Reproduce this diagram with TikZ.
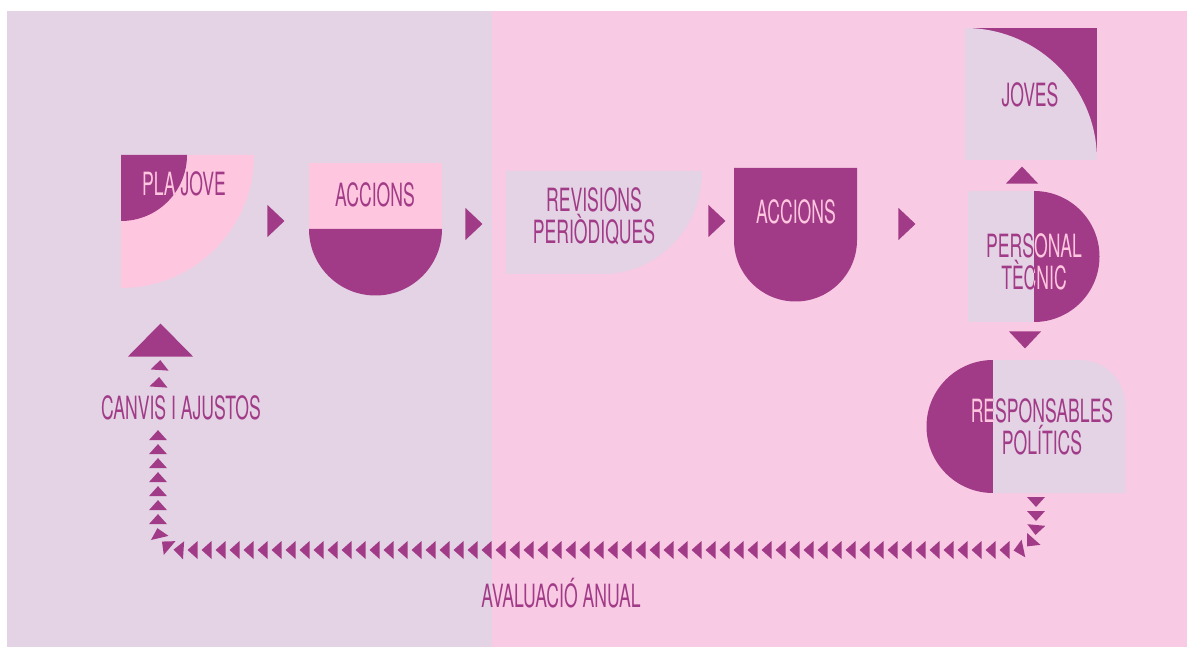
\documentclass[tikz,border=0pt]{standalone}
\usepackage{fontspec}
\newfontfamily\agency{TeX Gyre Heros}[FakeStretch=0.55]
\usepackage{tikz}
\usetikzlibrary{
  arrows.meta, shapes.geometric, decorations.markings
}

\definecolor{lavbg}{HTML}{E3D3E5}
\definecolor{pinkbg}{HTML}{F8CAE4}
\definecolor{lightpink}{HTML}{FFC6DF}
\definecolor{plum}{HTML}{A23B87}

\begin{document}
\begin{tikzpicture}[x=1pt, y=-1pt,
  txt/.style={font=\agency\fontsize{32}{32}\selectfont, text=plum,
              align=center, inner sep=0pt},
  flow/.style={isosceles triangle, isosceles triangle stretches,
               fill=plum, inner sep=0pt, minimum width=32pt,
               minimum height=17pt, shape border rotate=#1, anchor=apex},
  flow/.default=0,
  bighead/.style={isosceles triangle, isosceles triangle stretches,
                  fill=plum, inner sep=0pt, minimum width=65pt,
                  minimum height=33pt, shape border rotate=90, anchor=apex},
  dashtrail/.style={decorate, decoration={markings,
              mark=between positions #1 with
              {\fill[plum, sharp corners] (5pt,0pt) -- (-5pt,9pt) -- (-5pt,-9pt) -- cycle;}}},
]
\useasboundingbox (0,0) rectangle (1187,647);

% ---- fons ----
\fill[white] (0,0) rectangle (1187,647);
\fill[lavbg] (7,11) rectangle (492,647);
\fill[pinkbg] (492,11) rectangle (1187,647);

% ---- formes ----
\fill[lightpink] (121,155) -- (254,155) arc[start angle=0, end angle=90, radius=133] -- cycle;
\fill[plum] (121,155) -- (187,155) arc[start angle=0, end angle=90, radius=66] -- cycle;

\fill[lightpink] (309,163) rectangle (442,229);
\fill[plum] (442,229) arc[start angle=0, end angle=180, radius=66.5] -- cycle;

\fill[lavbg] (506,171) -- (702,171)
  arc[start angle=0, end angle=90, x radius=99, y radius=103] -- (506,274) -- cycle;

\fill[plum] (734,168) -- (857,168) -- (857,240)
  arc[start angle=0, end angle=180, radius=61.5] -- cycle;

\fill[plum] (965,28) rectangle (1097,160);
\fill[lavbg] (965,160) -- (965,28) arc[start angle=270, end angle=360, radius=132] -- cycle;

\fill[lavbg] (968,191) rectangle (1034,322);
\fill[plum] (1034,191) arc[start angle=270, end angle=450, radius=65.5] -- cycle;

\fill[plum] (993,360) arc[start angle=270, end angle=90, radius=66.5] -- cycle;
\fill[lavbg] (993,360) -- (1080,360) arc[start angle=270, end angle=360, radius=45]
  -- (1125,493) -- (993,493) -- cycle;

% ---- textos ----
\node[txt] (plajove)      at (184,184)  {PLA JOVE};
\node[txt] (accions)      at (375,195)  {ACCIONS};
\node[txt] (revisions)    at (594,216)  {REVISIONS\\PERIÒDIQUES};
\node[txt, text=lightpink] (accions2) at (796,212) {ACCIONS};
\node[txt] (joves)        at (1030,95)  {JOVES};
\node[txt] (personal)     at (1034,262) {PERSONAL\\TÈCNIC};
\node[txt] (responsables) at (1042,427) {RESPONSABLES\\POLÍTICS};
\node[txt] (canvis)       at (181,408)  {CANVIS I AJUSTOS};
\node[txt] (avaluacio)    at (561,593)  {AVALUACIÓ ANUAL};

% ---- text invertit ----
\begin{scope}
  \clip (121,155) -- (187,155) arc[start angle=0, end angle=90, radius=66] -- cycle;
  \node[txt, text=lightpink] (plajove-inv) at (184,184) {PLA JOVE};
\end{scope}
\begin{scope}
  \clip (1034,191) arc[start angle=270, end angle=450, radius=65.5] -- cycle;
  \node[txt, text=lightpink] (personal-inv) at (1034,262) {PERSONAL\\TÈCNIC};
\end{scope}
\begin{scope}
  \clip (993,360) arc[start angle=270, end angle=90, radius=66.5] -- cycle;
  \node[txt, text=lightpink] (responsables-inv) at (1042,427) {RESPONSABLES\\POLÍTICS};
\end{scope}

% ---- fletxes ----
\node[flow]     (f1) at (285,221)  {};
\node[flow]     (f2) at (483,224)  {};
\node[flow]     (f3) at (726,221)  {};
\node[flow]     (f4) at (916,224)  {};
\node[flow=90]  (f5) at (1022,166) {};
\node[flow=-90] (f6) at (1025,349) {};
\node[bighead]  (head) at (160.5,323) {};

% ---- avaluacio ----
\coordinate (trail-start) at (1036,497);
\coordinate (trail-right) at (1036,550);
\coordinate (trail-left)  at (158,550);
\coordinate (trail-end)   at (158,425);
\coordinate (trail-top)   at (158,394);
\path[dashtrail={5pt and -2pt step 14pt}, rounded corners=22pt]
  (trail-start) -- (trail-right) -- (trail-left) -- (trail-end);
\path[dashtrail={12pt and -1pt step 17pt}] (trail-top) -- (head.south);

\end{tikzpicture}
\end{document}
